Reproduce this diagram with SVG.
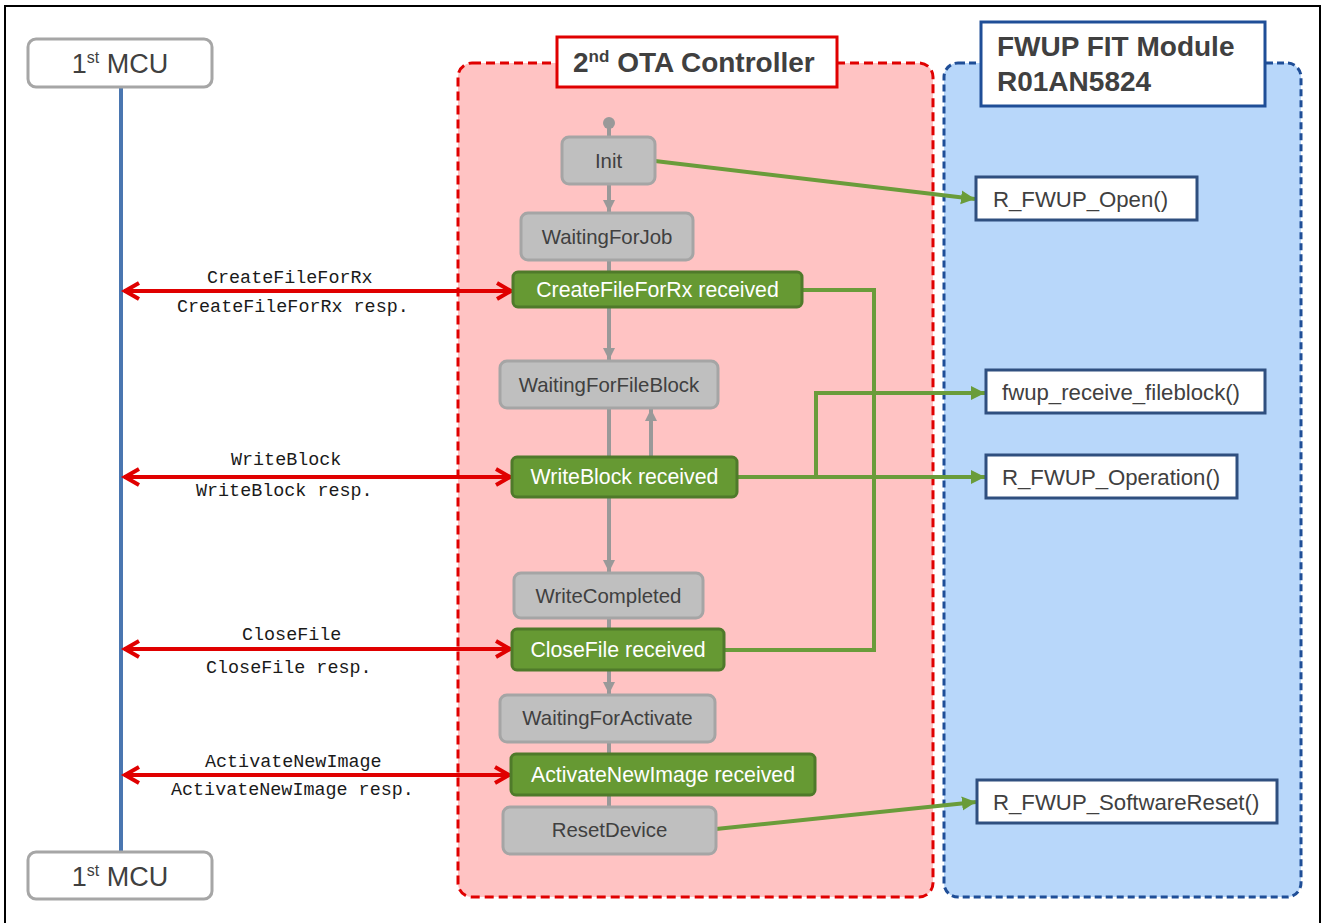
<svg xmlns="http://www.w3.org/2000/svg" width="1326" height="923" viewBox="0 0 1326 923">
<style>
.st{fill:#bfbfbf;stroke:#a5a5a5;stroke-width:3}
.gr{fill:#669933;stroke:#4f7a2a;stroke-width:3}
.fn{fill:#ffffff;stroke:#2f4f7f;stroke-width:3}
.mcu{fill:#ffffff;stroke:#a6a6a6;stroke-width:3}
.t{font-family:"Liberation Sans",Arial,sans-serif;font-size:20.4px;fill:#404040}
.tf{font-family:"Liberation Sans",Arial,sans-serif;font-size:22.2px;fill:#404040}
.tw{font-family:"Liberation Sans",Arial,sans-serif;font-size:21.3px;fill:#ffffff}
.tb{font-family:"Liberation Sans",Arial,sans-serif;font-size:28px;font-weight:bold;fill:#404040}
.tm{font-family:"Liberation Mono","DejaVu Sans Mono",monospace;font-size:18.4px;fill:#1a1a1a}
.gl{stroke:#999999;stroke-width:4;fill:none}
.grn{stroke:#6a9c3a;stroke-width:4;fill:none}
.red{stroke:#e00000;stroke-width:4;fill:none}
</style>
<defs>
<marker id="ag" markerUnits="userSpaceOnUse" markerWidth="14" markerHeight="14" refX="12" refY="7" orient="auto"><path d="M0,1 L12,7 L0,13 z" fill="#999999"/></marker>
<marker id="agr" markerUnits="userSpaceOnUse" markerWidth="16" markerHeight="16" refX="14" refY="8" orient="auto"><path d="M0,1 L14,8 L0,15 z" fill="#6a9c3a"/></marker>
<marker id="ar" markerUnits="userSpaceOnUse" markerWidth="24" markerHeight="24" refX="20" refY="12" orient="auto-start-reverse"><path d="M5,4 L19,12 L5,20" fill="none" stroke="#e00000" stroke-width="4"/></marker>
</defs>
<rect x="5" y="6" width="1315" height="925" fill="#ffffff" stroke="#000000" stroke-width="2"/>

<g id="ota-container">
<rect x="458" y="63" width="475" height="834" rx="14" fill="#ffc3c3" stroke="#e00000" stroke-width="3" stroke-dasharray="9 5"/>
</g>
<g id="fwup-container">
<rect x="944" y="63" width="357" height="834" rx="14" fill="#b8d7fa" stroke="#1f4e97" stroke-width="3" stroke-dasharray="7 4"/>
</g>
<g id="ota-title">
<rect x="557" y="37" width="280" height="50" fill="#ffffff" stroke="#e00000" stroke-width="3"/>
<text class="tb" x="573" y="72">2<tspan font-size="17" dy="-10">nd</tspan><tspan dy="10"> OTA Controller</tspan></text>
</g>
<g id="fwup-title">
<rect x="981" y="22" width="284" height="84" fill="#ffffff" stroke="#1f4e97" stroke-width="3"/>
<text class="tb" x="997" y="56">FWUP FIT Module</text>
<text class="tb" x="997" y="91">R01AN5824</text>
</g>

<g id="lifeline">
<line x1="121" y1="87" x2="121" y2="852" stroke="#4a76b0" stroke-width="4"/>
</g>

<g id="connectors">
<circle cx="609" cy="123" r="6" fill="#999999"/>
<line class="gl" x1="609" y1="123" x2="609" y2="137"/>
<line class="gl" x1="609" y1="184" x2="609" y2="212" marker-end="url(#ag)"/>
<line class="gl" x1="609" y1="260" x2="609" y2="272"/>
<line class="gl" x1="609" y1="307" x2="609" y2="360" marker-end="url(#ag)"/>
<line class="gl" x1="609" y1="408" x2="609" y2="457"/>
<line class="gl" x1="651" y1="457" x2="651" y2="409" marker-end="url(#ag)"/>
<line class="gl" x1="609" y1="497" x2="609" y2="572" marker-end="url(#ag)"/>
<line class="gl" x1="609" y1="618" x2="609" y2="629"/>
<line class="gl" x1="609" y1="670" x2="609" y2="694" marker-end="url(#ag)"/>
<line class="gl" x1="609" y1="742" x2="609" y2="754"/>
<line class="gl" x1="609" y1="795" x2="609" y2="807"/>

<line class="grn" x1="655" y1="161" x2="975" y2="199" marker-end="url(#agr)"/>
<polyline class="grn" points="802,290 874,290 874,650 724,650"/>
<line class="grn" x1="737" y1="477" x2="985" y2="477" marker-end="url(#agr)"/>
<polyline class="grn" points="816,477 816,393 985,393" marker-end="url(#agr)"/>
<line class="grn" x1="716" y1="829" x2="976" y2="802" marker-end="url(#agr)"/>

<line class="red" x1="124" y1="291" x2="512" y2="291" marker-start="url(#ar)" marker-end="url(#ar)"/>
<line class="red" x1="124" y1="477" x2="511" y2="477" marker-start="url(#ar)" marker-end="url(#ar)"/>
<line class="red" x1="124" y1="649" x2="511" y2="649" marker-start="url(#ar)" marker-end="url(#ar)"/>
<line class="red" x1="124" y1="775" x2="510" y2="775" marker-start="url(#ar)" marker-end="url(#ar)"/>

<text class="tm" x="207" y="283">CreateFileForRx</text>
<text class="tm" x="177" y="312">CreateFileForRx resp.</text>
<text class="tm" x="231" y="465">WriteBlock</text>
<text class="tm" x="196" y="496">WriteBlock resp.</text>
<text class="tm" x="242" y="640">CloseFile</text>
<text class="tm" x="206" y="673">CloseFile resp.</text>
<text class="tm" x="205" y="767">ActivateNewImage</text>
<text class="tm" x="171" y="795">ActivateNewImage resp.</text>
</g>

<g id="mcu-top">
<rect class="mcu" x="28" y="39" width="184" height="48" rx="8"/>
<text class="t" x="120" y="73" text-anchor="middle" style="font-size:27px">1<tspan style="font-size:16px" dy="-10">st</tspan><tspan dy="10"> MCU</tspan></text>
</g>
<g id="mcu-bottom">
<rect class="mcu" x="28" y="852" width="184" height="47" rx="8"/>
<text class="t" x="120" y="886" text-anchor="middle" style="font-size:27px">1<tspan style="font-size:16px" dy="-10">st</tspan><tspan dy="10"> MCU</tspan></text>
</g>

<g id="init">
<rect class="st" x="562" y="137" width="93" height="47" rx="7"/>
<text class="t" x="608.5" y="168" text-anchor="middle">Init</text>
</g>
<g id="waiting-for-job">
<rect class="st" x="521" y="213" width="172" height="47" rx="7"/>
<text class="t" x="607" y="244" text-anchor="middle">WaitingForJob</text>
</g>
<g id="createfile-received">
<rect class="gr" x="513" y="272" width="289" height="35" rx="5"/>
<text class="tw" x="657.5" y="297" text-anchor="middle">CreateFileForRx received</text>
</g>
<g id="waiting-for-fileblock">
<rect class="st" x="500" y="361" width="218" height="47" rx="7"/>
<text class="t" x="609" y="392" text-anchor="middle">WaitingForFileBlock</text>
</g>
<g id="writeblock-received">
<rect class="gr" x="512" y="457" width="225" height="40" rx="5"/>
<text class="tw" x="624.5" y="484" text-anchor="middle">WriteBlock received</text>
</g>
<g id="write-completed">
<rect class="st" x="514" y="573" width="189" height="45" rx="7"/>
<text class="t" x="608.5" y="603" text-anchor="middle">WriteCompleted</text>
</g>
<g id="closefile-received">
<rect class="gr" x="512" y="629" width="212" height="41" rx="5"/>
<text class="tw" x="618" y="657" text-anchor="middle">CloseFile received</text>
</g>
<g id="waiting-for-activate">
<rect class="st" x="500" y="695" width="215" height="47" rx="7"/>
<text class="t" x="607.5" y="725" text-anchor="middle">WaitingForActivate</text>
</g>
<g id="activate-received">
<rect class="gr" x="511" y="754" width="304" height="41" rx="5"/>
<text class="tw" x="663" y="782" text-anchor="middle">ActivateNewImage received</text>
</g>
<g id="reset-device">
<rect class="st" x="503" y="807" width="213" height="47" rx="7"/>
<text class="t" x="609.5" y="837" text-anchor="middle">ResetDevice</text>
</g>

<g id="r-fwup-open">
<rect class="fn" x="976" y="177" width="221" height="43"/>
<text class="tf" x="993" y="207">R_FWUP_Open()</text>
</g>
<g id="fwup-receive-fileblock">
<rect class="fn" x="986" y="370" width="279" height="43"/>
<text class="tf" x="1002" y="400">fwup_receive_fileblock()</text>
</g>
<g id="r-fwup-operation">
<rect class="fn" x="986" y="455" width="251" height="43"/>
<text class="tf" x="1002" y="485">R_FWUP_Operation()</text>
</g>
<g id="r-fwup-softwarereset">
<rect class="fn" x="977" y="780" width="300" height="43"/>
<text class="tf" x="993" y="810">R_FWUP_SoftwareReset()</text>
</g>
</svg>
